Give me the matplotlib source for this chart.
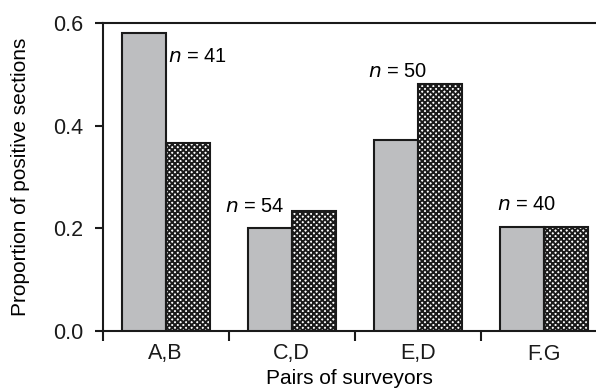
import matplotlib
matplotlib.use("Agg")
import matplotlib.pyplot as plt
import numpy as np

plt.rcParams['font.family'] = "sans-serif"
plt.rcParams['font.sans-serif'] = ["Liberation Sans", "DejaVu Sans"]
plt.rcParams['hatch.linewidth'] = 1.4

pairs = ["A,B", "C,D", "E,D", "F.G"]
first_surveyor = [0.580, 0.200, 0.372, 0.202]
second_surveyor = [0.366, 0.234, 0.481, 0.202]
sample_sizes = [41, 54, 50, 40]

# where the n = .. labels sit (x offset from group centre, baseline y)
label_pos = [(0.256, 0.524), (-0.29, 0.232), (-0.156, 0.495), (-0.137, 0.236)]

FS = 14.5


def main():
    fig = plt.figure(figsize=(5.96, 3.88), dpi=100)
    ax = fig.add_axes([102.7 / 596, 1 - 331 / 388, 1 - 102.7 / 596,
                       (331 - 23) / 388])

    x = np.arange(len(pairs))
    width = 0.35
    lw = 1.5

    ax.bar(x - width, first_surveyor, width, align='edge',
           color='#bdbec0', edgecolor='#1a1a1a', linewidth=lw, zorder=3)
    ax.bar(x, second_surveyor, width, align='edge', color='white',
           edgecolor='#1a1a1a', hatch='xxxxxx', linewidth=lw, zorder=3)

    for i, n in enumerate(sample_sizes):
        dx, y = label_pos[i]
        ax.text(x[i] + dx, y, "$n$ = %d" % n, ha='center', va='baseline',
                fontsize=FS)

    ax.set_xlim(-0.5, -0.5 + (596 - 102.7) / 126.0)
    ax.set_ylim(0, 0.6)

    ax.set_yticks([0.0, 0.2, 0.4, 0.6])
    ax.set_yticklabels(["0.0", "0.2", "0.4", "0.6"])
    ax.set_xticks(x)
    ax.set_xticklabels(pairs)
    ax.set_xticks(list(x[:-1] + 0.5) + [-0.5], minor=True)

    ax.tick_params(axis='y', direction='out', length=6, width=lw,
                   labelsize=15.5, pad=8, colors='#1a1a1a')
    ax.tick_params(axis='x', which='major', length=0, pad=9,
                   labelsize=15.5, colors='#1a1a1a')
    ax.tick_params(axis='x', which='minor', direction='out', length=7,
                   width=lw, color='#1a1a1a')

    for side in ['left', 'top', 'bottom']:
        ax.spines[side].set_linewidth(lw)
        ax.spines[side].set_color('#1a1a1a')
    ax.spines['right'].set_visible(False)

    ax.set_ylabel("Proportion of positive sections", fontsize=15)
    ax.yaxis.set_label_coords(-0.148, 0.5)
    ax.set_xlabel("Pairs of surveyors", fontsize=15)
    ax.xaxis.set_label_coords(0.5, -0.124)

    fig.savefig("out.png", dpi=100)


if __name__ == "__main__":
    main()
